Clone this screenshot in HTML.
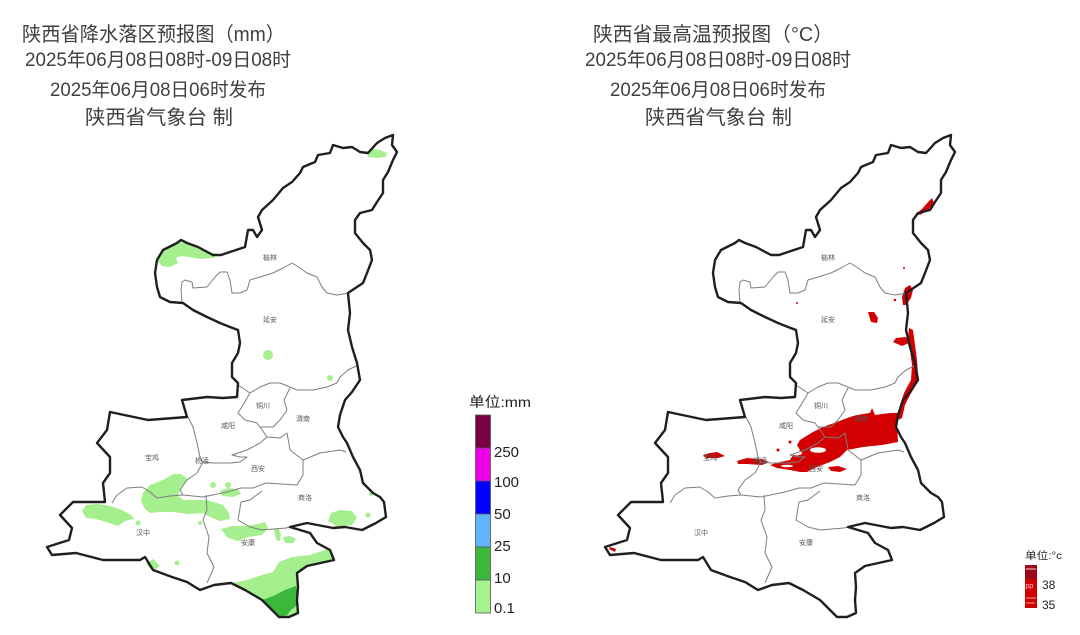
<!DOCTYPE html>
<html><head><meta charset="utf-8"><style>
html,body{margin:0;padding:0;background:#fff;}
svg{display:block;}
.t{font-family:"Liberation Sans","Noto Sans CJK SC",sans-serif;fill:#404040;}
.lb{font-family:"Liberation Sans","Noto Sans CJK SC",sans-serif;font-size:7px;fill:#555;}
.lg{font-family:"Liberation Sans","Noto Sans CJK SC",sans-serif;fill:#222;}
.ol{fill:none;stroke:#1f1f1f;stroke-width:2.4;stroke-linejoin:round;}
.ib{fill:none;stroke:#7d7d7d;stroke-width:1;stroke-linejoin:round;}
.g1{fill:#a6ef8f;}
.g2{fill:#3cb83c;}
.r{fill:#d20000;}
</style></head><body>
<svg width="1080" height="635" viewBox="0 0 1080 635" xmlns="http://www.w3.org/2000/svg">
<rect width="1080" height="635" fill="#fff"/>

<!-- Titles left -->
<text class="t" x="22" y="41" font-size="20" textLength="263" lengthAdjust="spacingAndGlyphs">陕西省降水落区预报图（mm）</text>
<text class="t" x="25" y="66" font-size="19" textLength="266" lengthAdjust="spacingAndGlyphs">2025年06月08日08时-09日08时</text>
<text class="t" x="50" y="96" font-size="19" textLength="216" lengthAdjust="spacingAndGlyphs">2025年06月08日06时发布</text>
<text class="t" x="85" y="124" font-size="20" textLength="148" lengthAdjust="spacingAndGlyphs">陕西省气象台 制</text>
<!-- Titles right -->
<text class="t" x="593" y="41" font-size="20" textLength="240" lengthAdjust="spacingAndGlyphs">陕西省最高温预报图（°C）</text>
<text class="t" x="585" y="66" font-size="19" textLength="266" lengthAdjust="spacingAndGlyphs">2025年06月08日08时-09日08时</text>
<text class="t" x="610" y="96" font-size="19" textLength="216" lengthAdjust="spacingAndGlyphs">2025年06月08日06时发布</text>
<text class="t" x="645" y="124" font-size="20" textLength="147" lengthAdjust="spacingAndGlyphs">陕西省气象台 制</text>

<!-- LEFT MAP rain areas -->
<g>
<path class="g1" d="M367,151 L373,149 L380,150 L387,153 L386,157 L377,158 L368,157 Z"/>
<path class="g1" d="M159,258 L163,249 L173,244 L180,242 L187,244 L197,248 L207,252 L216,254 L214,258 L200,259 L190,257 L181,256 L176,258 L178,263 L170,267 L162,266 L158,262 Z"/>
<circle class="g1" cx="268" cy="355" r="5"/>
<circle class="g1" cx="330" cy="378" r="3"/>
<path class="g1" d="M143,493 L150,485 L163,480 L173,474 L181,474 L188,479 L181,487 L178,496 L184,500 L195,500 L207,500 L223,505 L229,513 L230,519 L220,521 L210,517 L203,513 L188,514 L174,512 L160,512 L150,513 L144,508 L141,500 Z"/>
<path class="g1" d="M82,511 L86,505 L98,504 L110,506 L122,510 L131,515 L134,519 L125,521 L118,526 L106,522 L96,519 L86,518 Z"/>
<circle class="g1" cx="138" cy="523" r="2.5"/>
<circle class="g1" cx="200" cy="523" r="2"/>
<circle class="g1" cx="177" cy="563" r="2.5"/>
<circle class="g1" cx="213" cy="485" r="3"/>
<circle class="g1" cx="228" cy="485" r="3"/>
<path class="g1" d="M220,491 L228,488 L238,489 L241,494 L233,497 L222,496 Z"/>
<path class="g1" d="M221,529 L232,526 L246,526 L258,524 L265,522 L268,528 L262,535 L248,537 L238,541 L228,538 Z"/>
<path class="g1" d="M274,530 L278,528 L281,534 L280,541 L276,540 Z"/>
<path class="g1" d="M283,537 L290,536 L296,539 L293,543 L285,543 Z"/>
<path class="g1" d="M328,521 L331,513 L340,510 L352,511 L357,518 L352,525 L338,527 Z"/>
<circle class="g1" cx="368" cy="515" r="2.5"/>
<circle class="g1" cx="371" cy="494" r="2"/>
<path class="g1" d="M146,564 L153,559 L160,566 L153,571 Z"/>
<path class="g1" d="M232,583 L247,580 L262,575 L273,572 L279,562 L292,557 L310,555 L322,551 L328,549 L333,556 L334,560 L307,566 L297,573 L298,587 L297,600 L298,613 L289,617 L279,617 L262,600 L245,590 Z"/>
<path class="g2" d="M262,600 L273,596 L285,590 L296,586 L298,600 L296,606 L291,610 L287,615 L280,616 Z"/>
</g>

<!-- RIGHT MAP red areas -->
<g>
<path class="r" d="M916,214 L922,209 L929,201 L932,198 L934,203 L928,210 L920,215 Z"/>
<path class="r" d="M902,297 L905,288 L910,285 L913,290 L911,298 L906,305 L903,305 Z"/>
<path class="r" d="M909,328 L913,330 L915,345 L917,360 L918,375 L916,385 L910,395 L905,405 L902,418 L898,420 L900,405 L904,393 L911,380 L912,365 L910,350 L908,337 Z"/>
<path class="r" d="M893,342 L896,338 L906,337 L909,343 L902,346 Z"/>
<path class="r" d="M868,312 L874,312 L878,318 L877,323 L871,322 Z"/>
<path class="r" d="M800,440 L813,432 L823,427 L837,422 L850,417 L857,415 L870,413 L872,408 L875,415 L890,413 L898,413 L897,423 L898,442 L882,445 L863,447 L847,450 L840,457 L830,462 L817,467 L807,472 L800,472 L790,470 L777,468 L770,465 L780,462 L790,460 L793,455 L800,450 L797,445 Z"/>
<ellipse cx="818" cy="450" rx="8" ry="2.8" fill="#fff"/>
<ellipse cx="797" cy="453" rx="5" ry="2.5" fill="#fff"/>
<ellipse cx="787" cy="466" rx="6" ry="1.3" fill="#fff"/>
<path class="r" d="M737,461 L747,458 L761,459 L769,462 L762,465 L747,464 L738,464 Z"/>
<path class="r" d="M703,455 L710,453 L717,452 L725,456 L718,458 L706,458 Z"/>
<path class="r" d="M828,467 L838,466 L847,469 L840,472 L831,471 Z"/>
<circle class="r" cx="778" cy="450" r="1.5"/>
<circle class="r" cx="790" cy="442" r="1.5"/>
<circle class="r" cx="797" cy="303" r="1"/>
<circle class="r" cx="904" cy="268" r="1"/>
<circle class="r" cx="895" cy="300" r="1.3"/>
<path class="r" d="M610,547 L616,549 L615,552 L609,549 Z"/>
</g>

<!-- internal boundaries, both maps -->
<g>
<path class="ib" d="M182,303 L181,290 L182,282 L185,280 L192,282 L193,288 L207,287 L215,277 L220,272 L227,272 L230,280 L232,293 L240,293 L247,290 L250,280 L260,277 L273,273 L283,268 L292,263 L300,268 L307,273 L317,277 L322,287 L327,293 L337,295 L349,293"/>
<path class="ib" d="M238,385 L250,393 L260,387 L270,383 L280,383 L290,387 L297,390 L313,390 L327,387 L337,383 L340,377 L348,370 L356,366"/>
<path class="ib" d="M250,393 L243,405 L238,413 L245,420 L257,423 L260,427 L273,427 L280,420 L287,410 L284,400 L290,388"/>
<path class="ib" d="M260,427 L267,437 L260,443 L247,450 L232,455 L240,457 L247,457 L240,462 L230,463 L213,463 L203,462"/>
<path class="ib" d="M267,437 L280,438 L287,433 L290,450 L303,460 L320,453 L340,450 L346,452"/>
<path class="ib" d="M188,417 L193,427 L197,443 L200,457 L203,462 L197,473 L187,480 L180,490 L183,495"/>
<path class="ib" d="M112,503 L117,495 L127,488 L142,487 L150,492 L157,498 L170,496 L183,495"/>
<path class="ib" d="M183,495 L203,497 L227,492 L241,488 L253,488 L266,483 L297,485 L303,475 L303,460"/>
<path class="ib" d="M206,495 L207,510 L203,520 L209,537 L207,553 L214,567 L207,583"/>
<path class="ib" d="M262,491 L250,500 L241,502 L238,520 L250,527 L262,530 L286,528 L290,527"/>
</g>
<g transform="translate(558,0)">
<path class="ib" d="M182,303 L181,290 L182,282 L185,280 L192,282 L193,288 L207,287 L215,277 L220,272 L227,272 L230,280 L232,293 L240,293 L247,290 L250,280 L260,277 L273,273 L283,268 L292,263 L300,268 L307,273 L317,277 L322,287 L327,293 L337,295 L349,293"/>
<path class="ib" d="M238,385 L250,393 L260,387 L270,383 L280,383 L290,387 L297,390 L313,390 L327,387 L337,383 L340,377 L348,370 L356,366"/>
<path class="ib" d="M250,393 L243,405 L238,413 L245,420 L257,423 L260,427 L273,427 L280,420 L287,410 L284,400 L290,388"/>
<path class="ib" d="M260,427 L267,437 L260,443 L247,450 L232,455 L240,457 L247,457 L240,462 L230,463 L213,463 L203,462"/>
<path class="ib" d="M267,437 L280,438 L287,433 L290,450 L303,460 L320,453 L340,450 L346,452"/>
<path class="ib" d="M188,417 L193,427 L197,443 L200,457 L203,462 L197,473 L187,480 L180,490 L183,495"/>
<path class="ib" d="M112,503 L117,495 L127,488 L142,487 L150,492 L157,498 L170,496 L183,495"/>
<path class="ib" d="M183,495 L203,497 L227,492 L241,488 L253,488 L266,483 L297,485 L303,475 L303,460"/>
<path class="ib" d="M206,495 L207,510 L203,520 L209,537 L207,553 L214,567 L207,583"/>
<path class="ib" d="M262,491 L250,500 L241,502 L238,520 L250,527 L262,530 L286,528 L290,527"/>
</g>

<!-- outlines -->
<path class="ol" d="M393,135 L392,145 L397,152 L393,160 L388,172 L383,180 L383,193 L377,202 L372,210 L360,213 L355,220 L355,233 L363,243 L370,250 L372,260 L367,273 L363,283 L348,293 L350,313 L348,330 L352,347 L357,363 L360,380 L352,392 L345,400 L340,415 L338,427 L343,437 L347,443 L353,457 L360,470 L363,483 L373,493 L380,497 L384,502 L386,517 L376,523 L362,530 L345,527 L333,528 L307,523 L290,527 L300,530 L310,533 L317,543 L330,550 L334,560 L307,566 L297,573 L298,587 L297,600 L298,613 L289,617 L279,617 L262,600 L245,590 L231,583 L214,585 L200,590 L187,582 L172,577 L153,570 L145,557 L140,560 L103,560 L76,553 L52,555 L47,547 L69,540 L72,528 L60,515 L73,502 L105,502 L103,483 L110,473 L110,457 L97,443 L107,430 L110,412 L148,420 L187,417 L182,400 L207,397 L223,398 L237,397 L238,383 L232,377 L232,363 L238,353 L240,343 L238,330 L230,327 L220,323 L207,317 L193,310 L183,303 L170,302 L160,297 L157,287 L155,273 L157,260 L163,250 L177,243 L181,240 L187,243 L198,247 L213,255 L221,255 L233,251 L245,247 L248,230 L253,230 L257,237 L262,230 L258,217 L262,210 L273,200 L283,188 L292,182 L300,173 L303,167 L315,162 L318,155 L330,153 L333,145 L343,148 L352,147 L360,152 L368,153 L377,143 L385,138 Z"/>
<g transform="translate(558,0)">
<path class="ol" d="M393,135 L392,145 L397,152 L393,160 L388,172 L383,180 L383,193 L377,202 L372,210 L360,213 L355,220 L355,233 L363,243 L370,250 L372,260 L367,273 L363,283 L348,293 L350,313 L348,330 L352,347 L357,363 L360,380 L352,392 L345,400 L340,415 L338,427 L343,437 L347,443 L353,457 L360,470 L363,483 L373,493 L380,497 L384,502 L386,517 L376,523 L362,530 L345,527 L333,528 L307,523 L290,527 L300,530 L310,533 L317,543 L330,550 L334,560 L307,566 L297,573 L298,587 L297,600 L298,613 L289,617 L279,617 L262,600 L245,590 L231,583 L214,585 L200,590 L187,582 L172,577 L153,570 L145,557 L140,560 L103,560 L76,553 L52,555 L47,547 L69,540 L72,528 L60,515 L73,502 L105,502 L103,483 L110,473 L110,457 L97,443 L107,430 L110,412 L148,420 L187,417 L182,400 L207,397 L223,398 L237,397 L238,383 L232,377 L232,363 L238,353 L240,343 L238,330 L230,327 L220,323 L207,317 L193,310 L183,303 L170,302 L160,297 L157,287 L155,273 L157,260 L163,250 L177,243 L181,240 L187,243 L198,247 L213,255 L221,255 L233,251 L245,247 L248,230 L253,230 L257,237 L262,230 L258,217 L262,210 L273,200 L283,188 L292,182 L300,173 L303,167 L315,162 L318,155 L330,153 L333,145 L343,148 L352,147 L360,152 L368,153 L377,143 L385,138 Z"/>
</g>

<!-- city labels left -->
<g>
<text x="263" y="260" class="lb">榆林</text>
<text x="263" y="322" class="lb">延安</text>
<text x="256" y="408" class="lb">铜川</text>
<text x="296" y="421" class="lb">渭南</text>
<text x="221" y="428" class="lb">咸阳</text>
<text x="145" y="460" class="lb">宝鸡</text>
<text x="195" y="463" class="lb">杨凌</text>
<text x="251" y="471" class="lb">西安</text>
<text x="298" y="500" class="lb">商洛</text>
<text x="136" y="535" class="lb">汉中</text>
<text x="241" y="545" class="lb">安康</text>
</g>
<g transform="translate(558,0)">
<text x="263" y="260" class="lb">榆林</text>
<text x="263" y="322" class="lb">延安</text>
<text x="256" y="408" class="lb">铜川</text>
<text x="296" y="421" class="lb">渭南</text>
<text x="221" y="428" class="lb">咸阳</text>
<text x="145" y="460" class="lb">宝鸡</text>
<text x="195" y="463" class="lb">杨凌</text>
<text x="251" y="471" class="lb">西安</text>
<text x="298" y="500" class="lb">商洛</text>
<text x="136" y="535" class="lb">汉中</text>
<text x="241" y="545" class="lb">安康</text>
</g>

<!-- left legend -->
<text class="lg" x="469" y="407" font-size="14" textLength="62" lengthAdjust="spacingAndGlyphs">单位:mm</text>
<rect x="475.5" y="415" width="15" height="33" fill="#7a0040"/>
<rect x="475.5" y="448" width="15" height="33" fill="#f000e8"/>
<rect x="475.5" y="481" width="15" height="33" fill="#0000ff"/>
<rect x="475.5" y="514" width="15" height="33" fill="#62b4ff"/>
<rect x="475.5" y="547" width="15" height="33" fill="#3db83d"/>
<rect x="475.5" y="580" width="15" height="33" fill="#a6f28e"/>
<g stroke="#555" stroke-width="0.8" fill="none">
<rect x="475.5" y="415" width="15" height="198"/>
<line x1="475.5" y1="448" x2="490.5" y2="448"/>
<line x1="475.5" y1="481" x2="490.5" y2="481"/>
<line x1="475.5" y1="514" x2="490.5" y2="514"/>
<line x1="475.5" y1="547" x2="490.5" y2="547"/>
<line x1="475.5" y1="580" x2="490.5" y2="580"/>
</g>
<g class="lg" font-size="15">
<text x="494" y="457">250</text>
<text x="494" y="487">100</text>
<text x="494" y="519">50</text>
<text x="494" y="551">25</text>
<text x="494" y="583">10</text>
<text x="494" y="613">0.1</text>
</g>

<!-- right legend -->
<text class="lg" x="1025" y="559" font-size="10.5" textLength="37" lengthAdjust="spacingAndGlyphs">单位:°c</text>
<rect x="1025" y="565" width="12" height="14" fill="#9a0a1a"/>
<rect x="1025" y="579" width="12" height="29" fill="#d30000"/>
<line x1="1026" y1="569" x2="1036" y2="569" stroke="#f4d0d0" stroke-width="1"/>
<line x1="1026" y1="598" x2="1036" y2="598" stroke="#f6c8c8" stroke-width="0.8"/>
<line x1="1026" y1="603" x2="1035" y2="603" stroke="#f6c8c8" stroke-width="0.8"/>
<text x="1025.5" y="588" font-size="7" fill="#f2c0c0" font-family="Liberation Sans, sans-serif">pp</text>
<g class="lg" font-size="12">
<text x="1042" y="589">38</text>
<text x="1042" y="609">35</text>
</g>
</svg>
</body></html>
